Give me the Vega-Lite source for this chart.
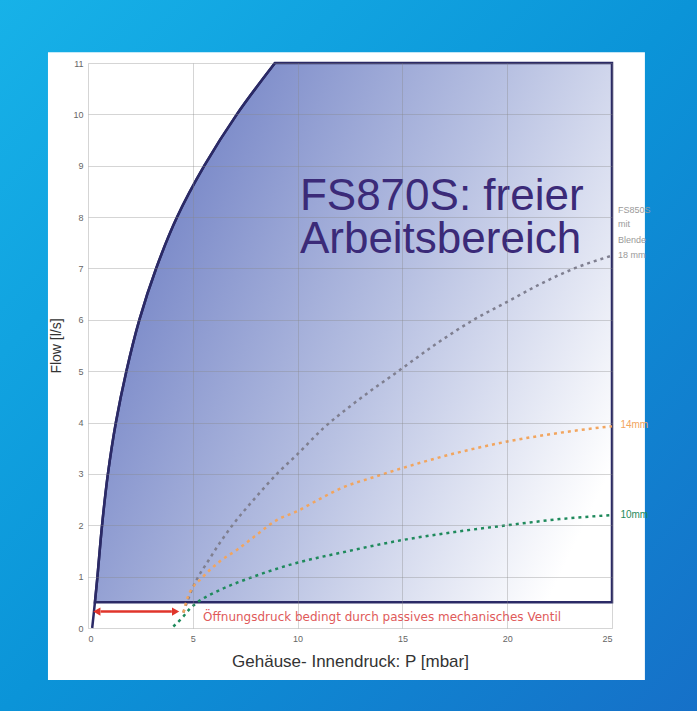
{
  "$schema": "https://vega.github.io/schema/vega-lite/v6.json",
  "width": 524,
  "height": 565,
  "autosize": {"type": "none"},
  "padding": {"left": 88, "top": 63, "right": 85, "bottom": 83},
  "background": "#0e9ad8",
  "config": {
    "font": "Liberation Sans",
    "view": {"stroke": null}
  },
  "datasets": {
    "boundary": [
      {"P": 0.2, "flow": 0},
      {"P": 0.33, "flow": 0.5},
      {"P": 0.45, "flow": 1},
      {"P": 0.67, "flow": 2},
      {"P": 0.95, "flow": 3},
      {"P": 1.33, "flow": 4},
      {"P": 1.83, "flow": 5},
      {"P": 2.45, "flow": 6},
      {"P": 3.25, "flow": 7},
      {"P": 4.25, "flow": 8},
      {"P": 5.55, "flow": 9},
      {"P": 7.1, "flow": 10},
      {"P": 8.92, "flow": 11}
    ],
    "curves": [
      {"series": "18mm", "P": 4.55, "flow": 0.3},
      {"series": "18mm", "P": 4.95, "flow": 0.74},
      {"series": "18mm", "P": 5.82, "flow": 1.36},
      {"series": "18mm", "P": 6.78, "flow": 1.94},
      {"series": "18mm", "P": 7.93, "flow": 2.51},
      {"series": "18mm", "P": 9.11, "flow": 3.04},
      {"series": "18mm", "P": 9.96, "flow": 3.37},
      {"series": "18mm", "P": 11.23, "flow": 3.89},
      {"series": "18mm", "P": 12.58, "flow": 4.34},
      {"series": "18mm", "P": 14.97, "flow": 5.05},
      {"series": "18mm", "P": 16.5, "flow": 5.5},
      {"series": "18mm", "P": 18.4, "flow": 6.0},
      {"series": "18mm", "P": 20, "flow": 6.35},
      {"series": "18mm", "P": 21.5, "flow": 6.68},
      {"series": "18mm", "P": 23.2, "flow": 7.0},
      {"series": "18mm", "P": 25, "flow": 7.25},
      {"series": "14mm", "P": 4.55, "flow": 0.3},
      {"series": "14mm", "P": 4.77, "flow": 0.61},
      {"series": "14mm", "P": 5.5, "flow": 1.0},
      {"series": "14mm", "P": 6.3, "flow": 1.3},
      {"series": "14mm", "P": 7.1, "flow": 1.52},
      {"series": "14mm", "P": 8, "flow": 1.8},
      {"series": "14mm", "P": 9, "flow": 2.1},
      {"series": "14mm", "P": 9.96, "flow": 2.27},
      {"series": "14mm", "P": 11, "flow": 2.5},
      {"series": "14mm", "P": 12.18, "flow": 2.74},
      {"series": "14mm", "P": 13.5, "flow": 2.92},
      {"series": "14mm", "P": 14.97, "flow": 3.11},
      {"series": "14mm", "P": 17.5, "flow": 3.4},
      {"series": "14mm", "P": 20, "flow": 3.63},
      {"series": "14mm", "P": 22.5, "flow": 3.8},
      {"series": "14mm", "P": 25, "flow": 3.93},
      {"series": "10mm", "P": 4.07, "flow": 0.03},
      {"series": "10mm", "P": 4.5, "flow": 0.2},
      {"series": "10mm", "P": 4.87, "flow": 0.38},
      {"series": "10mm", "P": 5.19, "flow": 0.49},
      {"series": "10mm", "P": 6.3, "flow": 0.74},
      {"series": "10mm", "P": 7.9, "flow": 1.0},
      {"series": "10mm", "P": 9.8, "flow": 1.25},
      {"series": "10mm", "P": 12.34, "flow": 1.49},
      {"series": "10mm", "P": 14.97, "flow": 1.71},
      {"series": "10mm", "P": 17.5, "flow": 1.87},
      {"series": "10mm", "P": 20, "flow": 2.0},
      {"series": "10mm", "P": 22.5, "flow": 2.12},
      {"series": "10mm", "P": 25, "flow": 2.2}
    ],
    "title": [
      {"label": "FS870S: freier", "P": 10.11, "flow": 8.14},
      {"label": "Arbeitsbereich", "P": 10.11, "flow": 7.3}
    ],
    "greyLabels": [
      {"label": "FS850S", "P": 25.29, "flow": 8.14},
      {"label": "mit", "P": 25.29, "flow": 7.87},
      {"label": "Blende", "P": 25.29, "flow": 7.55},
      {"label": "18 mm", "P": 25.29, "flow": 7.26}
    ],
    "seriesLabels": [
      {"label": "14mm", "series": "14mm", "P": 25.4, "flow": 3.95},
      {"label": "10mm", "series": "10mm", "P": 25.4, "flow": 2.2}
    ],
    "note": [
      {"label": "Öffnungsdruck bedingt durch passives mechanisches Ventil", "P": 5.49, "flow": 0.21}
    ],
    "arrowHeads": [
      {"P": 0.42, "flow": 0.32, "dir": "left"},
      {"P": 4.18, "flow": 0.32, "dir": "right"}
    ],
    "arrowLine": [
      {"from": 0.6, "to": 4.0, "flow": 0.32}
    ]
  },
  "layer": [
    {
      "data": {"values": [{}]},
      "mark": {
        "type": "rect",
        "fill": {
          "gradient": "linear", "x1": 0, "y1": 0, "x2": 1, "y2": 1,
          "stops": [
            {"offset": 0, "color": "#17b2e8"},
            {"offset": 0.5, "color": "#0b94d8"},
            {"offset": 1, "color": "#1670c8"}
          ]
        }
      },
      "encoding": {
        "x": {"datum": -4.25, "type": "quantitative", "scale": {"domain": [0, 25], "nice": false, "zero": false}},
        "x2": {"datum": 29.1},
        "y": {"datum": 12.3, "type": "quantitative", "scale": {"domain": [0, 11], "nice": false, "zero": false}},
        "y2": {"datum": -1.7}
      }
    },
    {
      "data": {"values": [{}]},
      "mark": {"type": "rect", "fill": "#ffffff"},
      "encoding": {
        "x": {"datum": -1.91, "type": "quantitative", "scale": {"domain": [0, 25], "nice": false, "zero": false}},
        "x2": {"datum": 26.57},
        "y": {"datum": 11.21, "type": "quantitative", "scale": {"domain": [0, 11], "nice": false, "zero": false}},
        "y2": {"datum": -1.01}
      }
    },
    {
      "data": {"name": "boundary"},
      "transform": [{"filter": "datum.flow >= 0.5"}],
      "mark": {
        "type": "area",
        "orient": "horizontal",
        "interpolate": "catmull-rom",
        "stroke": "#2b2a66",
        "strokeWidth": 2.5,
        "fill": {
          "gradient": "linear", "x1": 0, "y1": 0.25, "x2": 1, "y2": 0.75,
          "stops": [
            {"offset": 0, "color": "#6a7bc2"},
            {"offset": 0.55, "color": "#b8c1e2"},
            {"offset": 1, "color": "#ffffff"}
          ]
        }
      },
      "encoding": {
        "y": {
          "field": "flow", "type": "quantitative",
          "scale": {"domain": [0, 11], "nice": false, "zero": false},
          "axis": {
            "values": [0, 1, 2, 3, 4, 5, 6, 7, 8, 9, 10, 11],
            "title": "Flow [l/s]",
            "titleFontSize": 14,
            "titleFontWeight": "normal",
            "titleColor": "#333333",
            "labelFontSize": 9,
            "labelColor": "#666666",
            "labelPadding": 5,
            "titlePadding": 9,
            "ticks": false,
            "domain": false,
            "grid": true,
            "gridColor": "#888888",
            "gridOpacity": 0.35,
            "zindex": 1
          }
        },
        "x": {
          "field": "P", "type": "quantitative",
          "scale": {"domain": [0, 25], "nice": false, "zero": false},
          "axis": {
            "values": [0, 5, 10, 15, 20, 25],
            "title": "Gehäuse- Innendruck: P [mbar]",
            "titleFontSize": 17,
            "titleFontWeight": "normal",
            "titleColor": "#333333",
            "labelFontSize": 9,
            "labelColor": "#666666",
            "labelPadding": 6,
            "titlePadding": 10,
            "ticks": false,
            "domain": false,
            "grid": true,
            "gridColor": "#888888",
            "gridOpacity": 0.35,
            "zindex": 1
          }
        },
        "x2": {"datum": 25}
      }
    },
    {
      "data": {"name": "boundary"},
      "mark": {"type": "line", "stroke": "#2b2a66", "strokeWidth": 2.5, "interpolate": "catmull-rom"},
      "encoding": {
        "x": {"field": "P", "type": "quantitative"},
        "y": {"field": "flow", "type": "quantitative"},
        "order": {"field": "flow"}
      }
    },
    {
      "data": {"name": "curves"},
      "mark": {"type": "line", "strokeWidth": 2.5, "strokeDash": [3, 4], "interpolate": "monotone"},
      "encoding": {
        "x": {"field": "P", "type": "quantitative"},
        "y": {"field": "flow", "type": "quantitative"},
        "color": {
          "field": "series", "type": "nominal",
          "scale": {"domain": ["18mm", "14mm", "10mm"], "range": ["#7f7f90", "#f2a55e", "#1f8a5c"]},
          "legend": null
        }
      }
    },
    {
      "data": {"name": "arrowLine"},
      "mark": {"type": "rule", "color": "#e0352b", "strokeWidth": 2.5},
      "encoding": {
        "x": {"field": "from", "type": "quantitative"},
        "x2": {"field": "to"},
        "y": {"field": "flow", "type": "quantitative"}
      }
    },
    {
      "data": {"name": "arrowHeads"},
      "mark": {"type": "point", "filled": true, "color": "#e0352b", "size": 70, "opacity": 1},
      "encoding": {
        "x": {"field": "P", "type": "quantitative"},
        "y": {"field": "flow", "type": "quantitative"},
        "shape": {
          "field": "dir", "type": "nominal",
          "scale": {"domain": ["left", "right"], "range": ["triangle-left", "triangle-right"]},
          "legend": null
        }
      }
    },
    {
      "data": {"name": "title"},
      "mark": {"type": "text", "align": "left", "baseline": "alphabetic", "fontSize": 44, "color": "#3b2a78"},
      "encoding": {
        "x": {"field": "P", "type": "quantitative"},
        "y": {"field": "flow", "type": "quantitative"},
        "text": {"field": "label"}
      }
    },
    {
      "data": {"name": "greyLabels"},
      "mark": {"type": "text", "align": "left", "baseline": "middle", "fontSize": 9, "color": "#9a9a9a"},
      "encoding": {
        "x": {"field": "P", "type": "quantitative"},
        "y": {"field": "flow", "type": "quantitative"},
        "text": {"field": "label"}
      }
    },
    {
      "data": {"name": "seriesLabels"},
      "mark": {"type": "text", "align": "left", "baseline": "middle", "fontSize": 10},
      "encoding": {
        "x": {"field": "P", "type": "quantitative"},
        "y": {"field": "flow", "type": "quantitative"},
        "text": {"field": "label"},
        "color": {
          "field": "series", "type": "nominal",
          "scale": {"domain": ["18mm", "14mm", "10mm"], "range": ["#7f7f90", "#f2b068", "#2a9060"]},
          "legend": null
        }
      }
    },
    {
      "data": {"name": "note"},
      "mark": {"type": "text", "align": "left", "baseline": "middle", "fontSize": 12, "font": "DejaVu Sans", "color": "#e05a5a"},
      "encoding": {
        "x": {"field": "P", "type": "quantitative"},
        "y": {"field": "flow", "type": "quantitative"},
        "text": {"field": "label"}
      }
    }
  ]
}
